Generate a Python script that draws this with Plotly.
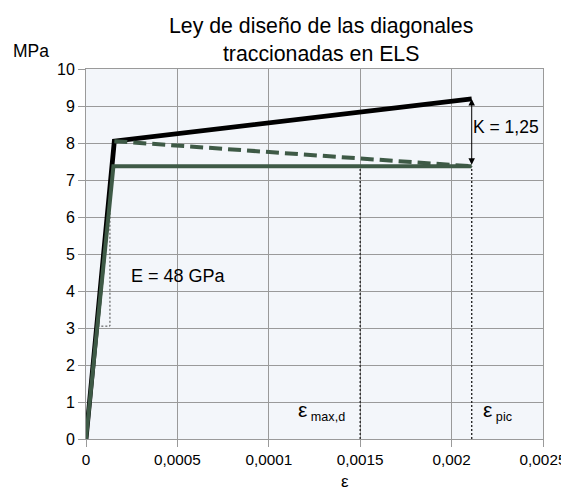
import plotly.graph_objects as go

# Data
eps_black = [0, 0.000155, 0.00211]
sig_black = [0, 8.05, 9.19]
eps_green = [0, 0.00015, 0.00211]
sig_green = [0, 7.37, 7.37]
eps_dash = [0.000155, 0.00211]
sig_dash = [8.05, 7.37]
eps_slope = [0.000062, 0.000131, 0.000131]
sig_slope = [3.05, 3.05, 6.40]
eps_max_d = 0.0015
eps_pic = 0.00211
sig_green_level = 7.37
sig_peak = 9.19

x_tickvals = [0, 0.0005, 0.001, 0.0015, 0.002, 0.0025]
x_ticktext = ["0", "0,0005", "0,0001", "0,0015", "0,002", "0,0025"]
y_tickvals = list(range(0, 11))

GREEN = "#3e5a46"
FONT = "Liberation Sans, Arial, sans-serif"

# page body adds an 8px offset
OFF = 8
L, R, T, B = 86, 543, 69, 439
W, H = 569, 490 - OFF
PW, PH = R - L, B - T


def px(xp):
    return (xp - L) / PW


def py(yp):
    return (B - yp) / PH


fig = go.Figure()

fig.add_trace(go.Scatter(x=[eps_max_d, eps_max_d], y=[0, sig_green_level], mode="lines",
                         line=dict(color="#2a2a2a", width=1.4, dash="2px,2px"), hoverinfo="skip"))
fig.add_trace(go.Scatter(x=[eps_pic, eps_pic], y=[0, sig_green_level], mode="lines",
                         line=dict(color="#2a2a2a", width=1.4, dash="2px,2px"), hoverinfo="skip"))
fig.add_trace(go.Scatter(x=eps_slope, y=sig_slope, mode="lines",
                         line=dict(color="#444444", width=1, dash="2px,2px"), hoverinfo="skip"))

fig.add_trace(go.Scatter(x=eps_black, y=sig_black, mode="lines",
                         line=dict(color="#000000", width=4.8), hoverinfo="skip"))
fig.add_trace(go.Scatter(x=eps_dash, y=sig_dash, mode="lines",
                         line=dict(color=GREEN, width=4, dash="13px,6px"), hoverinfo="skip"))
fig.add_trace(go.Scatter(x=eps_green, y=sig_green, mode="lines",
                         line=dict(color=GREEN, width=4), hoverinfo="skip"))

annotations = [
    dict(x=eps_pic, y=sig_peak, ax=eps_pic, ay=sig_green_level, xref="x", yref="y",
         axref="x", ayref="y", showarrow=True, arrowhead=2, arrowside="end+start",
         arrowsize=1.3, arrowwidth=1, arrowcolor="#000000", text=""),
    dict(x=eps_pic, y=8.43, xref="x", yref="y", text="K = 1,25", showarrow=False,
         xanchor="left", yanchor="middle", xshift=-1,
         font=dict(size=17.5, color="#000000", family=FONT)),
    dict(x=0.000236, y=4.4, xref="x", yref="y", text="E = 48 GPa", showarrow=False,
         xanchor="left", yanchor="middle", font=dict(size=18, color="#000000", family=FONT)),
    dict(x=eps_max_d, y=0.76, xref="x", yref="y",
         text="<span style='font-size:21px'>ε</span><sub> max,d</sub>", showarrow=False,
         xanchor="right", yanchor="middle", xshift=-13,
         font=dict(size=18, color="#000000", family=FONT)),
    dict(x=eps_pic, y=0.76, xref="x", yref="y",
         text="<span style='font-size:21px'>ε</span><sub> pic</sub>", showarrow=False,
         xanchor="left", yanchor="middle", xshift=9,
         font=dict(size=18, color="#000000", family=FONT)),
    dict(x=px(31), y=py(51), xref="paper", yref="paper", text="MPa",
         xanchor="center", yanchor="middle",
         showarrow=False, font=dict(size=17.5, color="#000000", family=FONT)),
    dict(x=px(345), y=py(481), xref="paper", yref="paper", text="ε",
         xanchor="center", yanchor="middle",
         showarrow=False, font=dict(size=17, color="#000000", family=FONT)),
    dict(x=px(321), y=py(40), xref="paper", yref="paper",
         text="Ley de diseño de las diagonales<br>traccionadas en ELS",
         showarrow=False, xanchor="center", yanchor="middle",
         font=dict(size=21.3, color="#000000", family=FONT)),
]

fig.update_layout(
    width=W, height=H,
    margin=dict(l=L - OFF, r=W + OFF - R, t=T - OFF, b=490 - B),
    paper_bgcolor="#ffffff", plot_bgcolor="#f3f6fa",
    showlegend=False,
    font=dict(family=FONT, color="#000000"),
    annotations=annotations,
    xaxis=dict(range=[0, 0.0025], tickvals=x_tickvals, ticktext=x_ticktext,
               automargin=False,
               showgrid=True, gridcolor="#9a9a9a", gridwidth=1.2,
               ticks="outside", ticklen=7, tickcolor="#9a9a9a",
               showline=True, linecolor="#9a9a9a", mirror=True, zeroline=False,
               tickfont=dict(size=15.3, color="#000000")),
    yaxis=dict(range=[0, 10], tickvals=y_tickvals, automargin=False,
               showgrid=True, gridcolor="#9a9a9a", gridwidth=1.2,
               ticks="outside", ticklen=7, tickcolor="#9a9a9a",
               showline=True, linecolor="#9a9a9a", mirror=True, zeroline=False,
               tickfont=dict(size=16, color="#000000")),
)

fig.write_html("out.html")
